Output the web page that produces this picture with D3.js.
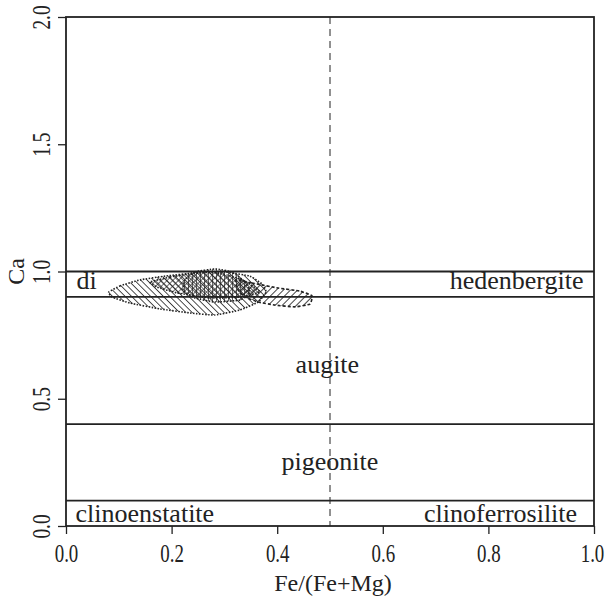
<!DOCTYPE html>
<html>
<head>
<meta charset="utf-8">
<script src="https://cdn.jsdelivr.net/npm/d3@7"></script>
<style>
  html, body { margin: 0; padding: 0; background: #fff; }
  svg text { font-family: "Liberation Serif", "DejaVu Serif", serif !important; fill: #222; }
</style>
</head>
<body>
<svg id="chart" width="605" height="600"></svg>
<script>
// Pyroxene classification (Ca vs Fe/(Fe+Mg))
const xTicks = [0.0, 0.2, 0.4, 0.6, 0.8, 1.0];
const yTicks = [0.0, 0.5, 1.0, 1.5, 2.0];
const fieldBoundaries = [0.1, 0.4, 0.9, 1.0];
const divider = 0.5;

const fieldNames = ["di", "hedenbergite", "augite", "pigeonite", "clinoenstatite", "clinoferrosilite"];
const fieldNameX = [0.02, 0.98, 0.495, 0.50, 0.018, 0.968];
const fieldNameY = [0.93, 0.93, 0.60, 0.22, 0.015, 0.015];
const fieldNameAnchor = ["start", "end", "middle", "middle", "start", "end"];

// Composition envelopes of the analysed pyroxenes
const envelopeBackslash = [
  [0.081, 0.919], [0.102, 0.943], [0.140, 0.967], [0.188, 0.982], [0.244, 0.994],
  [0.301, 0.998], [0.348, 0.982], [0.371, 0.951], [0.379, 0.919], [0.364, 0.880],
  [0.330, 0.849], [0.282, 0.829], [0.235, 0.837], [0.178, 0.853], [0.121, 0.876],
  [0.087, 0.900]
];
const envelopeSlash = [
  [0.322, 0.967], [0.352, 0.955], [0.402, 0.935], [0.443, 0.923], [0.466, 0.904],
  [0.462, 0.872], [0.434, 0.861], [0.396, 0.868], [0.364, 0.880], [0.339, 0.900],
  [0.326, 0.927]
];
const envelopeCross = [
  [0.159, 0.959], [0.197, 0.978], [0.241, 0.994], [0.273, 0.998], [0.305, 0.986],
  [0.330, 0.971], [0.348, 0.951], [0.367, 0.919], [0.335, 0.900], [0.273, 0.896],
  [0.210, 0.916], [0.172, 0.939]
];
const envelopeVertical = [
  [0.225, 0.967], [0.244, 0.998], [0.282, 1.010], [0.314, 0.998], [0.339, 0.959],
  [0.348, 0.919], [0.330, 0.888], [0.282, 0.880], [0.244, 0.896], [0.222, 0.927]
];

const svg = d3.select("#chart");
const serif = "Liberation Serif";
const margin = { left: 66, top: 17, right: 11, bottom: 74 };
const W = 605, H = 600;
const x = d3.scaleLinear().domain([0, 1]).range([margin.left, W - margin.right]);
const y = d3.scaleLinear().domain([0, 2]).range([H - margin.bottom, margin.top]);
const ink = "#222";

// hatch patterns
const defs = svg.append("defs");
function hatch(id, angle, spacing, width) {
  const p = defs.append("pattern").attr("id", id)
    .attr("patternUnits", "userSpaceOnUse")
    .attr("width", spacing).attr("height", spacing)
    .attr("patternTransform", `rotate(${angle})`);
  p.append("line").attr("x1", 0).attr("y1", 0).attr("x2", 0).attr("y2", spacing)
    .attr("stroke", ink).attr("stroke-width", width);
}
hatch("h-back", -45, 4.5, 1.6);
hatch("h-slash", 45, 5, 1.7);
hatch("h-vert", 0, 4, 1.4);
const cross = defs.append("pattern").attr("id", "h-cross")
  .attr("patternUnits", "userSpaceOnUse").attr("width", 4).attr("height", 4)
  .attr("patternTransform", "rotate(45)");
cross.append("line").attr("x1", 0).attr("y1", 0).attr("x2", 0).attr("y2", 4).attr("stroke", ink).attr("stroke-width", 1.3);
cross.append("line").attr("x1", 0).attr("y1", 0).attr("x2", 4).attr("y2", 0).attr("stroke", ink).attr("stroke-width", 1.3);

// field boundaries
svg.append("g").selectAll("line").data(fieldBoundaries).join("line")
  .attr("x1", x(0)).attr("x2", x(1))
  .attr("y1", d => y(d)).attr("y2", d => y(d))
  .attr("stroke", ink).attr("stroke-width", 1.8);

svg.append("line")
  .attr("x1", x(divider)).attr("x2", x(divider))
  .attr("y1", y(2)).attr("y2", y(0))
  .attr("stroke", ink).attr("stroke-width", 1).attr("stroke-dasharray", "7,5");

// envelopes
const line = d3.line().x(d => x(d[0])).y(d => y(d[1])).curve(d3.curveCardinalClosed.tension(0.6));
const envelopes = [
  { pts: envelopeBackslash, fill: "url(#h-back)", dash: "1.5,1.5" },
  { pts: envelopeSlash, fill: "url(#h-slash)", dash: "3,2" },
  { pts: envelopeCross, fill: "url(#h-cross)", dash: "1.5,1.5" },
  { pts: envelopeVertical, fill: "url(#h-vert)", dash: "1.5,1.5" }
];
svg.append("g").selectAll("path").data(envelopes).join("path")
  .attr("d", d => line(d.pts))
  .attr("fill", d => d.fill)
  .attr("stroke", ink).attr("stroke-width", 1.6)
  .attr("stroke-dasharray", d => d.dash);

// field names
svg.append("g").selectAll("text").data(fieldNames).join("text")
  .attr("x", (d, i) => x(fieldNameX[i]))
  .attr("y", (d, i) => y(fieldNameY[i]))
  .attr("text-anchor", (d, i) => fieldNameAnchor[i])
  .attr("font-family", serif)
  .attr("font-size", 26)
  .text(d => d);

// frame
svg.append("rect")
  .attr("x", x(0)).attr("y", y(2))
  .attr("width", x(1) - x(0)).attr("height", y(0) - y(2))
  .attr("fill", "none").attr("stroke", ink).attr("stroke-width", 1.8);

// axes
const xAxis = svg.append("g").attr("transform", `translate(0,${y(0)})`)
  .call(d3.axisBottom(x).tickValues(xTicks).tickFormat(d3.format(".1f")).tickSize(8).tickPadding(8));
const yAxis = svg.append("g").attr("transform", `translate(${x(0)},0)`)
  .call(d3.axisLeft(y).tickValues(yTicks).tickFormat(d3.format(".1f")).tickSize(8).tickPadding(6));
[xAxis, yAxis].forEach(g => {
  g.attr("font-family", serif);
  g.select(".domain").remove();
  g.selectAll(".tick line").attr("stroke", ink).attr("stroke-width", 1.3);
  g.selectAll(".tick text").attr("font-size", 22)
    .attr("font-family", serif).attr("fill", "#222");
});
xAxis.selectAll(".tick text")
  .attr("transform", d => (d === 1 ? "translate(-2,0) " : "") + "scale(0.86,1.15)");
yAxis.selectAll(".tick text")
  .attr("text-anchor", "middle").attr("dy", null).attr("x", null)
  .attr("transform", "translate(-22,0) rotate(-90) scale(0.88,1.15)")
  .attr("dominant-baseline", "middle");

// axis titles
svg.append("text")
  .attr("x", x(0.5) + 3).attr("y", 591)
  .attr("text-anchor", "middle").attr("font-size", 24)
  .attr("font-family", serif)
  .text("Fe/(Fe+Mg)");
svg.append("text")
  .attr("transform", `translate(24,${y(1)}) rotate(-90)`)
  .attr("text-anchor", "middle").attr("font-size", 24)
  .attr("font-family", serif)
  .text("Ca");
</script>
</body>
</html>
